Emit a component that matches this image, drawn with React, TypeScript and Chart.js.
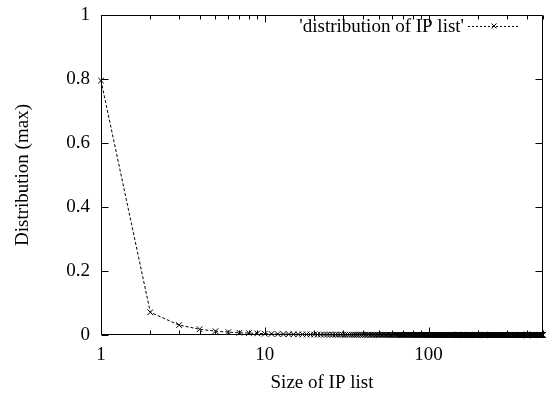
import React, { useEffect, useRef } from "react";
import { Chart, registerables } from "chart.js";

Chart.register(...registerables);

// IP list sizes (x values)
const sizes = [
  1, 2, 3, 4, 5, 6, 7, 8, 9, 10,
  11, 12, 13, 14, 15, 16, 17, 18, 19, 20,
  21, 22, 23, 24, 25, 26, 27, 28, 29, 30,
  31, 32, 33, 34, 35, 36, 37, 38, 39, 40,
  41, 42, 43, 44, 45, 46, 47, 48, 49, 50,
  51, 52, 53, 54, 55, 56, 57, 58, 59, 60,
  61, 62, 63, 64, 65, 66, 67, 68, 69, 70,
  71, 72, 73, 74, 75, 76, 77, 78, 79, 80,
  81, 82, 83, 84, 85, 86, 87, 88, 89, 90,
  91, 92, 93, 94, 95, 96, 97, 98, 99, 100,
  101, 102, 103, 104, 105, 106, 107, 108, 109, 110,
  111, 112, 113, 114, 115, 116, 117, 118, 119, 120,
  121, 122, 123, 124, 125, 126, 127, 128, 129, 130,
  131, 132, 133, 134, 135, 136, 137, 138, 139, 140,
  141, 142, 143, 144, 145, 146, 147, 148, 149, 150,
  151, 152, 153, 154, 155, 156, 157, 158, 159, 160,
  161, 162, 163, 164, 165, 166, 167, 168, 169, 170,
  171, 172, 173, 174, 175, 176, 177, 178, 179, 180,
  181, 182, 183, 184, 185, 186, 187, 188, 189, 190,
  191, 192, 193, 194, 195, 196, 197, 198, 199, 200,
  201, 202, 203, 204, 205, 206, 207, 208, 209, 210,
  211, 212, 213, 214, 215, 216, 217, 218, 219, 220,
  221, 222, 223, 224, 225, 226, 227, 228, 229, 230,
  231, 232, 233, 234, 235, 236, 237, 238, 239, 240,
  241, 242, 243, 244, 245, 246, 247, 248, 249, 250,
  251, 252, 253, 254, 255, 256, 257, 258, 259, 260,
  261, 262, 263, 264, 265, 266, 267, 268, 269, 270,
  271, 272, 273, 274, 275, 276, 277, 278, 279, 280,
  281, 282, 283, 284, 285, 286, 287, 288, 289, 290,
  291, 292, 293, 294, 295, 296, 297, 298, 299, 300,
  301, 302, 303, 304, 305, 306, 307, 308, 309, 310,
  311, 312, 313, 314, 315, 316, 317, 318, 319, 320,
  321, 322, 323, 324, 325, 326, 327, 328, 329, 330,
  331, 332, 333, 334, 335, 336, 337, 338, 339, 340,
  341, 342, 343, 344, 345, 346, 347, 348, 349, 350,
  351, 352, 353, 354, 355, 356, 357, 358, 359, 360,
  361, 362, 363, 364, 365, 366, 367, 368, 369, 370,
  371, 372, 373, 374, 375, 376, 377, 378, 379, 380,
  381, 382, 383, 384, 385, 386, 387, 388, 389, 390,
  391, 392, 393, 394, 395, 396, 397, 398, 399, 400,
  401, 402, 403, 404, 405, 406, 407, 408, 409, 410,
  411, 412, 413, 414, 415, 416, 417, 418, 419, 420,
  421, 422, 423, 424, 425, 426, 427, 428, 429, 430,
  431, 432, 433, 434, 435, 436, 437, 438, 439, 440,
  441, 442, 443, 444, 445, 446, 447, 448, 449, 450,
  451, 452, 453, 454, 455, 456, 457, 458, 459, 460,
  461, 462, 463, 464, 465, 466, 467, 468, 469, 470,
  471, 472, 473, 474, 475, 476, 477, 478, 479, 480,
  481, 482, 483, 484, 485, 486, 487, 488, 489, 490,
  491, 492, 493, 494, 495, 496, 497, 498, 499, 500,
];

// Distribution (max) per size
const distribution = [
  0.795, 0.071, 0.031, 0.018, 0.012, 0.009, 0.007, 0.006, 0.005, 0.004,
  0.0035, 0.003, 0.0027, 0.0024, 0.0022, 0.002, 0.0019, 0.0017, 0.0016, 0.0015,
  0.0014, 0.0013, 0.0013, 0.0012, 0.0012, 0.0011, 0.0011, 0.001, 0.001, 0.001,
  0.0009, 0.0009, 0.0009, 0.0008, 0.0008, 0.0008, 0.0008, 0.0008, 0.0007, 0.0007,
  0.0007, 0.0007, 0.0007, 0.0007, 0.0007, 0.0006, 0.0006, 0.0006, 0.0006, 0.0006,
  0.0006, 0.0006, 0.0006, 0.0006, 0.0006, 0.0005, 0.0005, 0.0005, 0.0005, 0.0005,
  0.0005, 0.0005, 0.0005, 0.0005, 0.0005, 0.0005, 0.0005, 0.0005, 0.0005, 0.0005,
  0.0005, 0.0005, 0.0005, 0.0004, 0.0004, 0.0004, 0.0004, 0.0004, 0.0004, 0.0004,
  0.0004, 0.0004, 0.0004, 0.0004, 0.0004, 0.0004, 0.0004, 0.0004, 0.0004, 0.0004,
  0.0004, 0.0004, 0.0004, 0.0004, 0.0003, 0.0003, 0.0003, 0.0003, 0.0003, 0.0003,
  0.0003, 0.0003, 0.0003, 0.0003, 0.0003, 0.0003, 0.0003, 0.0003, 0.0003, 0.0003,
  0.0003, 0.0003, 0.0003, 0.0003, 0.0003, 0.0003, 0.0003, 0.0003, 0.0003, 0.0003,
  0.0003, 0.0003, 0.0003, 0.0003, 0.0003, 0.0003, 0.0003, 0.0003, 0.0003, 0.0003,
  0.0003, 0.0003, 0.0003, 0.0003, 0.0003, 0.0003, 0.0003, 0.0003, 0.0003, 0.0003,
  0.0002, 0.0002, 0.0002, 0.0002, 0.0002, 0.0002, 0.0002, 0.0002, 0.0002, 0.0002,
  0.0002, 0.0002, 0.0002, 0.0002, 0.0002, 0.0002, 0.0002, 0.0002, 0.0002, 0.0002,
  0.0002, 0.0002, 0.0002, 0.0002, 0.0002, 0.0002, 0.0002, 0.0002, 0.0002, 0.0002,
  0.0002, 0.0002, 0.0002, 0.0002, 0.0002, 0.0002, 0.0002, 0.0002, 0.0002, 0.0002,
  0.0002, 0.0002, 0.0002, 0.0002, 0.0002, 0.0002, 0.0002, 0.0002, 0.0002, 0.0002,
  0.0002, 0.0002, 0.0002, 0.0002, 0.0002, 0.0002, 0.0002, 0.0002, 0.0002, 0.0002,
  0.0002, 0.0002, 0.0002, 0.0002, 0.0002, 0.0002, 0.0002, 0.0002, 0.0002, 0.0002,
  0.0002, 0.0002, 0.0002, 0.0002, 0.0002, 0.0002, 0.0002, 0.0002, 0.0002, 0.0002,
  0.0002, 0.0002, 0.0002, 0.0002, 0.0002, 0.0002, 0.0002, 0.0002, 0.0002, 0.0002,
  0.0002, 0.0002, 0.0002, 0.0002, 0.0002, 0.0002, 0.0002, 0.0002, 0.0002, 0.0002,
  0.0002, 0.0002, 0.0002, 0.0002, 0.0002, 0.0002, 0.0002, 0.0002, 0.0002, 0.0002,
  0.0002, 0.0002, 0.0002, 0.0002, 0.0002, 0.0002, 0.0002, 0.0002, 0.0002, 0.0002,
  0.0002, 0.0002, 0.0002, 0.0002, 0.0002, 0.0002, 0.0002, 0.0002, 0.0002, 0.0002,
  0.0002, 0.0002, 0.0002, 0.0002, 0.0002, 0.0002, 0.0002, 0.0002, 0.0002, 0.0002,
  0.0002, 0.0002, 0.0002, 0.0002, 0.0002, 0.0002, 0.0002, 0.0002, 0.0002, 0.0002,
  0.0002, 0.0002, 0.0002, 0.0002, 0.0002, 0.0002, 0.0002, 0.0002, 0.0002, 0.0002,
  0.0001, 0.0001, 0.0001, 0.0001, 0.0001, 0.0001, 0.0001, 0.0001, 0.0001, 0.0001,
  0.0001, 0.0001, 0.0001, 0.0001, 0.0001, 0.0001, 0.0001, 0.0001, 0.0001, 0.0001,
  0.0001, 0.0001, 0.0001, 0.0001, 0.0001, 0.0001, 0.0001, 0.0001, 0.0001, 0.0001,
  0.0001, 0.0001, 0.0001, 0.0001, 0.0001, 0.0001, 0.0001, 0.0001, 0.0001, 0.0001,
  0.0001, 0.0001, 0.0001, 0.0001, 0.0001, 0.0001, 0.0001, 0.0001, 0.0001, 0.0001,
  0.0001, 0.0001, 0.0001, 0.0001, 0.0001, 0.0001, 0.0001, 0.0001, 0.0001, 0.0001,
  0.0001, 0.0001, 0.0001, 0.0001, 0.0001, 0.0001, 0.0001, 0.0001, 0.0001, 0.0001,
  0.0001, 0.0001, 0.0001, 0.0001, 0.0001, 0.0001, 0.0001, 0.0001, 0.0001, 0.0001,
  0.0001, 0.0001, 0.0001, 0.0001, 0.0001, 0.0001, 0.0001, 0.0001, 0.0001, 0.0001,
  0.0001, 0.0001, 0.0001, 0.0001, 0.0001, 0.0001, 0.0001, 0.0001, 0.0001, 0.0001,
  0.0001, 0.0001, 0.0001, 0.0001, 0.0001, 0.0001, 0.0001, 0.0001, 0.0001, 0.0001,
  0.0001, 0.0001, 0.0001, 0.0001, 0.0001, 0.0001, 0.0001, 0.0001, 0.0001, 0.0001,
  0.0001, 0.0001, 0.0001, 0.0001, 0.0001, 0.0001, 0.0001, 0.0001, 0.0001, 0.0001,
  0.0001, 0.0001, 0.0001, 0.0001, 0.0001, 0.0001, 0.0001, 0.0001, 0.0001, 0.0001,
  0.0001, 0.0001, 0.0001, 0.0001, 0.0001, 0.0001, 0.0001, 0.0001, 0.0001, 0.0001,
  0.0001, 0.0001, 0.0001, 0.0001, 0.0001, 0.0001, 0.0001, 0.0001, 0.0001, 0.0001,
  0.0001, 0.0001, 0.0001, 0.0001, 0.0001, 0.0001, 0.0001, 0.0001, 0.0001, 0.0001,
  0.0001, 0.0001, 0.0001, 0.0001, 0.0001, 0.0001, 0.0001, 0.0001, 0.0001, 0.0001,
  0.0001, 0.0001, 0.0001, 0.0001, 0.0001, 0.0001, 0.0001, 0.0001, 0.0001, 0.0001,
  0.0001, 0.0001, 0.0001, 0.0001, 0.0001, 0.0001, 0.0001, 0.0001, 0.0001, 0.0001,
];

const seriesLabel = "'distribution of IP list'";
const xTitle = "Size of IP list";
const yTitle = "Distribution (max)";
const xMajorTicks = [1, 10, 100];
const xMinorTicks = [2, 3, 4, 5, 6, 7, 8, 9, 20, 30, 40, 50, 60, 70, 80, 90, 200, 300, 400, 500];
const yMajorTicks = [0, 0.2, 0.4, 0.6, 0.8, 1];
const xMin = 1;
const xMax = 500;

const FONT_FAMILY = "'Liberation Serif', 'Times New Roman', serif";
const FONT_SIZE = 19;

export default function App() {
  const canvasRef = useRef<HTMLCanvasElement>(null);

  useEffect(() => {
    const canvas = canvasRef.current;
    if (!canvas) return;

    const framePlugin = {
      id: "gnuplotFrame",
      afterDraw(chart: any) {
        const { ctx, chartArea: a, scales } = chart;
        const xs = scales.x;
        const ys = scales.y;
        const L = Math.round(a.left) + 0.5;
        const R = Math.round(a.right) - 0.5;
        const T = Math.round(a.top) + 0.5;
        const B = Math.round(a.bottom) - 0.5;
        ctx.save();
        ctx.strokeStyle = "#000";
        ctx.lineWidth = 1;
        ctx.setLineDash([]);
        ctx.beginPath();
        ctx.rect(L, T, R - L, B - T);
        ctx.stroke();

        const major = 7;
        const minor = 4;
        ctx.beginPath();
        const xTick = (v: number, len: number) => {
          const px = Math.round(xs.getPixelForValue(v)) + 0.5;
          ctx.moveTo(px, B);
          ctx.lineTo(px, B - len);
          ctx.moveTo(px, T);
          ctx.lineTo(px, T + len);
        };
        xMajorTicks.forEach((v) => xTick(v, major));
        xMinorTicks.forEach((v) => xTick(v, minor));
        yMajorTicks.forEach((v) => {
          const py = Math.round(ys.getPixelForValue(v)) + 0.5;
          ctx.moveTo(L, py);
          ctx.lineTo(L + major, py);
          ctx.moveTo(R, py);
          ctx.lineTo(R - major, py);
        });
        ctx.stroke();

        // Key (legend) in the top-right corner
        const keyY = a.top + 11;
        const lineEnd = a.right - 23;
        const lineStart = lineEnd - 52;
        ctx.font = `${FONT_SIZE}px ${FONT_FAMILY}`;
        ctx.fillStyle = "#000";
        ctx.textAlign = "right";
        ctx.textBaseline = "middle";
        ctx.fillText(seriesLabel, lineStart - 4, keyY + 1);
        ctx.beginPath();
        ctx.setLineDash([2, 2]);
        ctx.moveTo(lineStart, Math.round(keyY) + 0.5);
        ctx.lineTo(lineEnd, Math.round(keyY) + 0.5);
        ctx.stroke();
        ctx.setLineDash([]);
        const mx = (lineStart + lineEnd) / 2;
        const r = 2.5;
        ctx.beginPath();
        ctx.moveTo(mx - r, keyY - r);
        ctx.lineTo(mx + r, keyY + r);
        ctx.moveTo(mx - r, keyY + r);
        ctx.lineTo(mx + r, keyY - r);
        ctx.stroke();
        ctx.restore();
      },
    };

    const chart = new Chart(canvas, {
      type: "line",
      data: {
        datasets: [
          {
            label: seriesLabel,
            data: sizes.map((s, i) => ({ x: s, y: distribution[i] })),
            borderColor: "#000",
            backgroundColor: "#000",
            borderWidth: 1,
            borderDash: [3, 2],
            pointStyle: "crossRot",
            pointRadius: 4,
            pointBorderWidth: 1,
            pointBorderColor: "#000",
            tension: 0,
            fill: false,
            clip: false as any,
          },
        ],
      },
      plugins: [framePlugin],
      options: {
        animation: false,
        responsive: false,
        devicePixelRatio: 1,
        layout: { padding: { top: 15, right: 3, left: 0, bottom: 0 } },
        plugins: {
          legend: { display: false },
          tooltip: { enabled: false },
        },
        scales: {
          x: {
            type: "logarithmic",
            min: xMin,
            max: xMax,
            afterBuildTicks: (scale: any) => {
              scale.ticks = xMajorTicks.map((v) => ({ value: v }));
            },
            afterFit: (scale: any) => {
              scale.height = 61;
              scale.paddingLeft = 0;
              scale.paddingRight = 0;
            },
            grid: { display: false, drawTicks: false },
            border: { display: false },
            ticks: {
              autoSkip: false,
              maxRotation: 0,
              padding: 9,
              color: "#000",
              font: { family: FONT_FAMILY, size: FONT_SIZE },
              callback: (v: any) => String(v),
            },
            title: {
              display: true,
              text: xTitle,
              color: "#000",
              font: { family: FONT_FAMILY, size: FONT_SIZE },
              padding: { top: 0, bottom: 2 },
            },
          },
          y: {
            type: "linear",
            min: 0,
            max: 1,
            afterBuildTicks: (scale: any) => {
              scale.ticks = yMajorTicks.map((v) => ({ value: v }));
            },
            afterFit: (scale: any) => {
              scale.width = 101;
              scale.paddingTop = 0;
              scale.paddingBottom = 0;
            },
            grid: { display: false, drawTicks: false },
            border: { display: false },
            ticks: {
              padding: 11,
              color: "#000",
              font: { family: FONT_FAMILY, size: FONT_SIZE },
              callback: (v: any) => String(v),
            },
            title: {
              display: true,
              text: yTitle,
              color: "#000",
              font: { family: FONT_FAMILY, size: FONT_SIZE },
              padding: { top: 12, bottom: 0 },
            },
          },
        },
      },
    });

    return () => chart.destroy();
  }, []);

  return (
    <div style={{ position: "fixed", left: 0, top: 0, width: 548, height: 396, background: "#fff" }}>
      <canvas ref={canvasRef} width={548} height={396} style={{ width: 548, height: 396, display: "block" }} />
    </div>
  );
}
